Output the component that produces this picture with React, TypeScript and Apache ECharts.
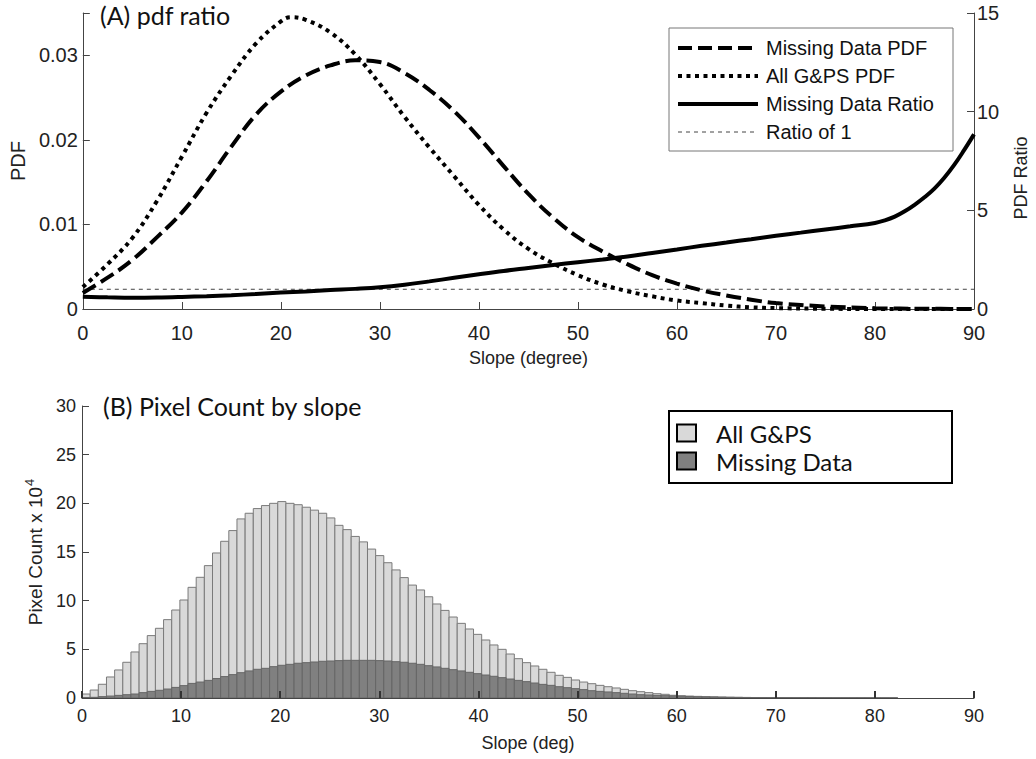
import React, { useEffect, useRef } from "react";
import * as echarts from "echarts";

// ---------- Panel A: PDF curves (x = slope in degrees) ----------
const missingPts = [0, 2.5, 5, 7.5, 10, 12.5, 15, 17.5, 20, 22.5, 25, 27.5, 30, 32.5, 35, 37.5, 40, 42.5, 45, 47.5, 50, 52.5, 55, 57.5, 60, 62.5, 65, 67.5, 70, 75, 80, 85, 90];
const missingPdf = [0.0019, 0.0037, 0.0058, 0.0085, 0.0114, 0.0151, 0.0192, 0.023, 0.0257, 0.0276, 0.0288, 0.0294, 0.0292, 0.0279, 0.0259, 0.0234, 0.0203, 0.0169, 0.0136, 0.0108, 0.0085, 0.0068, 0.0053, 0.004, 0.003, 0.0022, 0.0016, 0.0011, 0.0007, 0.0003, 0.0001, 0.00003, 0];
const allPts = [0, 2.5, 5, 7.5, 10, 12.5, 15, 17.5, 20, 21, 22.5, 25, 27.5, 30, 32.5, 35, 37.5, 40, 42.5, 45, 47.5, 50, 52.5, 55, 57.5, 60, 62.5, 65, 67.5, 70, 75, 80, 85, 90];
const allPdf = [0.0026, 0.0053, 0.0084, 0.0128, 0.018, 0.0232, 0.0276, 0.0314, 0.0340, 0.0345, 0.0342, 0.0327, 0.0301, 0.0266, 0.0227, 0.0191, 0.0157, 0.0123, 0.0094, 0.0071, 0.0054, 0.004, 0.0029, 0.0021, 0.0015, 0.001, 0.0007, 0.0004, 0.0002, 0.0001, 0.00003, 0, 0, 0];

const ratioPts = [0, 2.5, 5, 7.5, 10, 12.5, 15, 17.5, 20, 22.5, 25, 27.5, 30, 32.5, 35, 37.5, 40, 42.5, 45, 47.5, 50, 52.5, 55, 57.5, 60, 62.5, 65, 67.5, 70, 72.5, 75, 77.5, 80, 81, 82, 83, 84, 85, 86, 87, 88, 89, 90];
const missingRatio = [0.62, 0.59, 0.57, 0.58, 0.61, 0.65, 0.7, 0.76, 0.83, 0.89, 0.96, 1.02, 1.1, 1.23, 1.4, 1.58, 1.76, 1.93, 2.08, 2.23, 2.37, 2.51, 2.66, 2.84, 3.02, 3.2, 3.37, 3.54, 3.71, 3.87, 4.03, 4.19, 4.36, 4.49, 4.68, 4.95, 5.28, 5.66, 6.1, 6.65, 7.3, 8.05, 8.85];
const ratioOne = 1;

// ---------- Panel B: histogram (x 10^4 pixels) ----------
const binWidth = 0.823;
const allCounts = [0.41, 0.82, 1.41, 2.16, 2.88, 3.67, 4.73, 5.58, 6.41, 7.16, 8.05, 9.04, 10.07, 11.37, 12.4, 13.6, 14.9, 16.1, 17.2, 18.4, 18.98, 19.46, 19.77, 20.0, 20.18, 20.0, 19.86, 19.6, 19.3, 18.98, 18.5, 17.74, 17.3, 16.6, 16.04, 15.3, 14.63, 13.9, 13.16, 12.37, 11.6, 11.1, 10.4, 9.66, 9.0, 8.32, 7.67, 7.09, 6.54, 5.96, 5.45, 5.0, 4.52, 4.04, 3.63, 3.29, 2.95, 2.64, 2.33, 2.12, 1.85, 1.64, 1.47, 1.3, 1.16, 1.03, 0.89, 0.75, 0.65, 0.55, 0.44, 0.38, 0.28, 0.24, 0.2, 0.17, 0.14, 0.12, 0.1, 0.08, 0.07, 0.06, 0.05, 0.04, 0.035, 0.03, 0.026, 0.022, 0.019, 0.016, 0.013, 0.011, 0.009, 0.008, 0.007, 0.006, 0.005, 0.004, 0.003, 0.002];
const missingCounts = [0.05, 0.07, 0.14, 0.2, 0.27, 0.34, 0.41, 0.55, 0.68, 0.79, 0.92, 1.09, 1.27, 1.5, 1.64, 1.81, 2.0, 2.2, 2.4, 2.6, 2.78, 2.95, 3.05, 3.22, 3.36, 3.46, 3.57, 3.63, 3.7, 3.77, 3.8, 3.84, 3.87, 3.87, 3.87, 3.87, 3.84, 3.8, 3.73, 3.67, 3.57, 3.46, 3.32, 3.19, 3.05, 2.91, 2.78, 2.64, 2.5, 2.36, 2.23, 2.09, 1.95, 1.81, 1.68, 1.54, 1.4, 1.3, 1.16, 1.06, 0.96, 0.86, 0.75, 0.68, 0.62, 0.55, 0.48, 0.41, 0.34, 0.31, 0.27, 0.24, 0.21, 0.17, 0.15, 0.13, 0.11, 0.1, 0.08, 0.07, 0.06, 0.05, 0.045, 0.04, 0.03, 0.028, 0.025, 0.02, 0.018, 0.015, 0.01, 0.009, 0.008, 0.007, 0.006, 0.005, 0.004, 0.003, 0.002, 0.002];

const xTicks = { min: 0, max: 90, interval: 10 };

const ARIAL = "'Liberation Sans', Arial, sans-serif";
const CAL = "Lato, 'Open Sans', sans-serif";

function pairs(xs: number[], ys: number[]) {
  return xs.map((x, i) => [x, ys[i]]);
}
function bins(vals: number[]) {
  return vals.map((v, i) => [i * binWidth, (i + 1) * binWidth, v]);
}

export default function App() {
  const ref = useRef<HTMLDivElement>(null);
  useEffect(() => {
    if (!ref.current) return;
    const chart = echarts.init(ref.current, undefined, { renderer: "svg" });

    const axisLineStyle = { color: "#444", width: 1 };
    const barRender = (fill: string, stroke: string) => (params: any, api: any) => {
      const x0 = api.value(0);
      const x1 = api.value(1);
      const v = api.value(2);
      const p0 = api.coord([x0, v]);
      const p1 = api.coord([x1, 0]);
      return {
        type: "rect",
        shape: { x: p0[0], y: p0[1], width: p1[0] - p0[0], height: p1[1] - p0[1] },
        style: { fill, stroke, lineWidth: 1 },
      };
    };

    const legendA = [
      { label: "Missing Data PDF", dash: [14, 6], width: 4, color: "#000" },
      { label: "All G&PS PDF", dash: [4, 4.5], width: 4, color: "#000" },
      { label: "Missing Data Ratio", dash: null, width: 4, color: "#000" },
      { label: "Ratio of 1", dash: [4, 4], width: 1, color: "#444" },
    ];
    const rowsA = [48, 76, 104, 132];
    const legendAEls: any[] = [
      { type: "rect", shape: { x: 669, y: 28, width: 284, height: 123 }, style: { fill: "#fff", stroke: "#777", lineWidth: 1 }, z: 50 },
    ];
    legendA.forEach((l, i) => {
      legendAEls.push({
        type: "line",
        shape: { x1: 678, y1: rowsA[i], x2: 758, y2: rowsA[i] },
        style: { stroke: l.color, lineWidth: l.width, lineDash: l.dash || undefined },
        z: 51,
      });
      legendAEls.push({
        type: "text",
        style: { x: 766, y: rowsA[i], text: l.label, font: `20px ${ARIAL}`, fill: "#111", verticalAlign: "middle" },
        z: 51,
      });
    });

    const legendB = [
      { label: "All G&PS", fill: "#d9d9d9" },
      { label: "Missing Data", fill: "#808080" },
    ];
    const rowsB = [433, 461];
    const legendBEls: any[] = [
      { type: "rect", shape: { x: 669, y: 411, width: 283, height: 72 }, style: { fill: "#fff", stroke: "#000", lineWidth: 2 }, z: 50 },
    ];
    legendB.forEach((l, i) => {
      legendBEls.push({
        type: "rect",
        shape: { x: 677, y: rowsB[i] - 8.5, width: 19, height: 17 },
        style: { fill: l.fill, stroke: "#000", lineWidth: 2 },
        z: 51,
      });
      legendBEls.push({
        type: "text",
        style: { x: 716, y: rowsB[i], text: l.label, font: `24px ${CAL}`, fill: "#111", verticalAlign: "middle" },
        z: 51,
      });
    });

    const option: any = {
      animation: false,
      backgroundColor: "#fff",
      grid: [
        { left: 82, top: 13, width: 892, height: 296 },
        { left: 82, top: 406, width: 892, height: 292 },
      ],
      xAxis: [
        {
          gridIndex: 0, type: "value", ...xTicks,
          axisLine: { show: true, lineStyle: axisLineStyle },
          axisTick: { show: true, inside: true, length: 7, lineStyle: axisLineStyle },
          axisLabel: { fontSize: 20, margin: 14, color: "#222", fontFamily: ARIAL },
          splitLine: { show: false },
          name: "Slope (degree)", nameLocation: "middle", nameGap: 40,
          nameTextStyle: { fontSize: 18, color: "#222", fontFamily: ARIAL },
        },
        {
          gridIndex: 1, type: "value", ...xTicks, z: 10,
          axisLine: { show: true, lineStyle: axisLineStyle },
          axisTick: { show: true, inside: true, length: 7, lineStyle: { color: "#333", width: 2 } },
          axisLabel: { fontSize: 18, margin: 9, color: "#222", fontFamily: ARIAL },
          splitLine: { show: false },
          name: "Slope (deg)", nameLocation: "middle", nameGap: 36,
          nameTextStyle: { fontSize: 18, color: "#222", fontFamily: ARIAL },
        },
      ],
      yAxis: [
        {
          gridIndex: 0, type: "value", min: 0, max: 0.035, interval: 0.01,
          axisLine: { show: true, lineStyle: axisLineStyle },
          axisTick: { show: true, inside: true, length: 7, lineStyle: axisLineStyle },
          axisLabel: {
            fontSize: 20, margin: 5, color: "#222", fontFamily: ARIAL,
            formatter: (v: number) => (v > 0.031 ? "" : String(+v.toFixed(2))),
          },
          splitLine: { show: false },
          name: "PDF", nameLocation: "middle", nameGap: 52, nameRotate: 90,
          nameTextStyle: { fontSize: 20, color: "#222", fontFamily: ARIAL },
        },
        {
          gridIndex: 0, type: "value", position: "right", min: 0, max: 15, interval: 5,
          axisLine: { show: true, lineStyle: axisLineStyle },
          axisTick: { show: true, inside: true, length: 7, lineStyle: axisLineStyle },
          axisLabel: { fontSize: 20, margin: 3, color: "#222", fontFamily: ARIAL },
          splitLine: { show: false },
        },
        {
          gridIndex: 1, type: "value", min: 0, max: 30, interval: 5,
          axisLine: { show: true, lineStyle: axisLineStyle },
          axisTick: { show: true, inside: true, length: 7, lineStyle: axisLineStyle },
          axisLabel: { fontSize: 18, margin: 6, color: "#222", fontFamily: ARIAL },
          splitLine: { show: false },
          name: "{a|Pixel Count x 10}{b|4}", nameLocation: "middle", nameGap: 37, nameRotate: 90,
          nameTextStyle: {
            color: "#222", fontFamily: ARIAL,
            rich: {
              a: { fontSize: 19, fontFamily: ARIAL, color: "#222", verticalAlign: "bottom" },
              b: { fontSize: 13, fontFamily: ARIAL, color: "#222", verticalAlign: "bottom", padding: [0, 0, 9, 1] },
            },
          },
        },
      ],
      series: [
        {
          name: "Ratio of 1", type: "line", xAxisIndex: 0, yAxisIndex: 1,
          data: [[xTicks.min, ratioOne], [xTicks.max, ratioOne]],
          symbol: "none", lineStyle: { color: "#444", width: 1, type: [4, 4] }, z: 2,
        },
        {
          name: "Missing Data Ratio", type: "line", xAxisIndex: 0, yAxisIndex: 1,
          data: pairs(ratioPts, missingRatio), smooth: 0.4,
          symbol: "none", lineStyle: { color: "#000", width: 4 }, z: 3,
        },
        {
          name: "All G&PS PDF", type: "line", xAxisIndex: 0, yAxisIndex: 0,
          data: pairs(allPts, allPdf), smooth: 0.4,
          symbol: "none", lineStyle: { color: "#000", width: 4, type: [4, 4.5] }, z: 3,
        },
        {
          name: "Missing Data PDF", type: "line", xAxisIndex: 0, yAxisIndex: 0,
          data: pairs(missingPts, missingPdf), smooth: 0.4,
          symbol: "none", lineStyle: { color: "#000", width: 4, type: [15, 6] }, z: 3,
        },
        {
          name: "All G&PS", type: "custom", xAxisIndex: 1, yAxisIndex: 2,
          data: bins(allCounts), encode: { x: [0, 1], y: 2 },
          renderItem: barRender("#d9d9d9", "#7a7a7a"), z: 2,
        },
        {
          name: "Missing Data", type: "custom", xAxisIndex: 1, yAxisIndex: 2,
          data: bins(missingCounts), encode: { x: [0, 1], y: 2 },
          renderItem: barRender("#808080", "#666"), z: 3,
        },
      ],
      graphic: [
        { type: "text", style: { x: 100, y: 15, text: "(A) pdf ratio", font: `25px ${CAL}`, fill: "#111", verticalAlign: "middle" }, z: 60 },
        { type: "text", style: { x: 103, y: 406, text: "(B) Pixel Count by slope", font: `25px ${CAL}`, fill: "#111", verticalAlign: "middle" }, z: 60 },
        {
          type: "text", x: 1021, y: 178, rotation: Math.PI / 2,
          style: { x: 0, y: 0, text: "PDF Ratio", font: `18px ${ARIAL}`, fill: "#222", align: "center", verticalAlign: "middle" },
          z: 60,
        },
        ...legendAEls,
        ...legendBEls,
      ],
    };
    chart.setOption(option);
    return () => chart.dispose();
  }, []);

  return (
    <div
      ref={ref}
      style={{ position: "absolute", left: 0, top: 0, width: 1036, height: 759, background: "#fff" }}
    />
  );
}
